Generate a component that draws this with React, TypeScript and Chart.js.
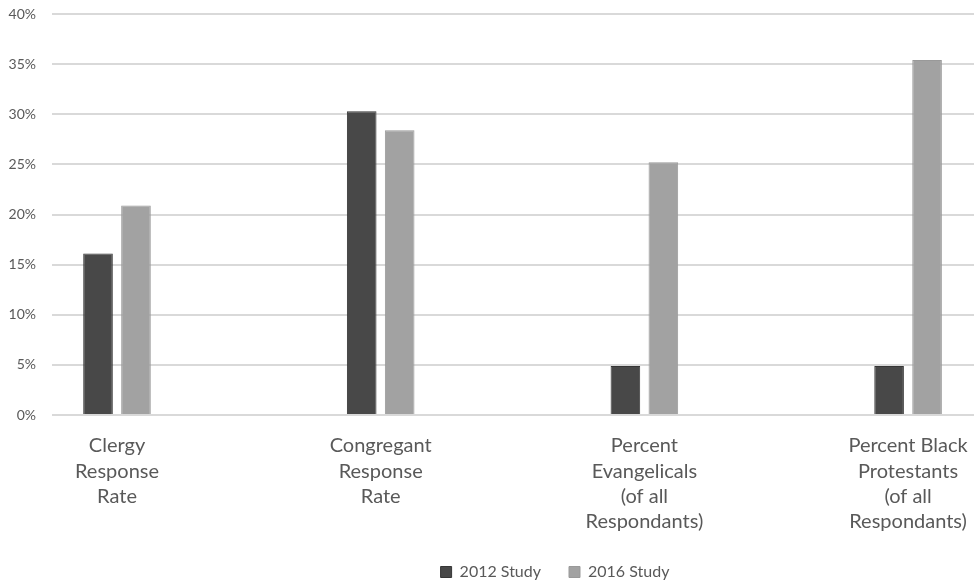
import React, { useEffect, useRef } from "react";
import { Chart, registerables } from "chart.js";

Chart.register(...registerables);

const categories: string[][] = [
  ["Clergy", "Response", "Rate"],
  ["Congregant", "Response", "Rate"],
  ["Percent", "Evangelicals", "(of all", "Respondants)"],
  ["Percent Black", "Protestants", "(of all", "Respondants)"],
];
const series2012: number[] = [16.1, 30.3, 4.9, 4.9];
const series2016: number[] = [20.9, 28.4, 25.2, 35.4];
const seriesNames: string[] = ["2012 Study", "2016 Study"];
const yTicks: number[] = [0, 5, 10, 15, 20, 25, 30, 35, 40];

const layoutTweak = {
  id: "layoutTweak",
  beforeDraw(chart: any) {
    const lg = chart.legend;
    if (lg && !lg._shifted) {
      lg.left += 68;
      lg.right += 68;
      lg.top += 4;
      lg.bottom += 4;
      lg._shifted = true;
    }
    const xs = chart.scales.x;
    if (xs) xs.bottom = chart.height;
  },
};

export default function App() {
  const ref = useRef<HTMLCanvasElement | null>(null);
  useEffect(() => {
    if (!ref.current) return;
    const font = "Lato, 'Open Sans', sans-serif";
    const chart = new Chart(ref.current, {
      type: "bar",
      data: {
        datasets: [
          {
            label: seriesNames[0],
            data: series2012.map((v, i) => ({ x: i, y: v })),
            backgroundColor: "#484848",
            borderColor: "#363636",
            borderWidth: 1,
            categoryPercentage: 0.288,
            barPercentage: 0.78,
          },
          {
            label: seriesNames[1],
            data: series2016.map((v, i) => ({ x: i, y: v })),
            backgroundColor: "#a2a2a2",
            borderColor: "#999999",
            borderWidth: 1,
            categoryPercentage: 0.288,
            barPercentage: 0.78,
          },
        ],
      },
      options: {
        animation: false,
        responsive: false,
        layout: { padding: { top: 14, left: 0, right: 0, bottom: 0 } },
        plugins: {
          tooltip: { enabled: false },
          legend: {
            position: "bottom",
            labels: {
              boxWidth: 11,
              boxHeight: 11,
              color: "#595959",
              font: { family: font, size: 16 },
              padding: 28,
            },
          },
        },
        scales: {
          x: {
            type: "linear",
            offset: false,
            min: -0.2465,
            max: 3.25,
            grid: { display: false, offset: false },
            border: { display: false },
            afterBuildTicks: (scale: any) => {
              scale.ticks = categories.map((_, i) => ({ value: i }));
            },
            afterFit: (scale: any) => {
              scale.height = 117;
              scale.paddingLeft = 0;
              scale.paddingRight = 0;
            },
            ticks: {
              autoSkip: false,
              maxRotation: 0,
              padding: 10,
              color: "#595959",
              font: { family: font, size: 20, lineHeight: 1.27 },
              callback: (v: any) => categories[v as number] ?? "",
            },
          },
          y: {
            min: 0,
            max: 40,
            afterBuildTicks: (scale: any) => {
              scale.ticks = yTicks.map((v) => ({ value: v }));
            },
            afterFit: (scale: any) => {
              scale.width = 52;
              scale.paddingTop = 0;
              scale.paddingBottom = 0;
            },
            grid: { color: "#d9d9d9", lineWidth: 2, drawTicks: false },
            border: { display: false },
            ticks: {
              padding: 16,
              color: "#595959",
              font: { family: font, size: 14 },
              callback: (v: any) => v + "%",
            },
          },
        },
      },
      plugins: [layoutTweak],
    } as any);
    return () => chart.destroy();
  }, []);
  return (
    <div style={{ position: "fixed", left: 0, top: 0, width: 974, height: 586, background: "#fff" }}>
      <canvas ref={ref} width={974} height={586} />
    </div>
  );
}
